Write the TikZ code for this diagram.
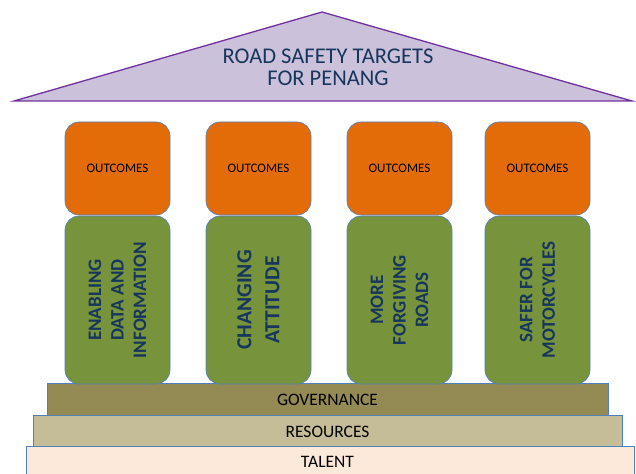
\documentclass[tikz,border=0pt]{standalone}
\usepackage{fontspec}
\setmainfont{Carlito}
\definecolor{roofFill}{HTML}{CCC1DA}
\definecolor{roofLine}{HTML}{7030A0}
\definecolor{outFill}{HTML}{E36C09}
\definecolor{pilFill}{HTML}{77933C}
\definecolor{boxLine}{HTML}{4F81BD}
\definecolor{govFill}{HTML}{948A54}
\definecolor{resFill}{HTML}{C4BD97}
\definecolor{talFill}{HTML}{FDE9D9}
\definecolor{navy}{HTML}{17365D}
\begin{document}
\begin{tikzpicture}[x=1pt,y=-1pt,
  outbox/.style={draw=boxLine, line width=0.6pt, fill=outFill, rounded corners=14pt,
    minimum width=105pt, minimum height=93pt, inner sep=0pt,
    font=\fontsize{13}{15}\selectfont, text=black},
  pilbox/.style={draw=boxLine, line width=0.6pt, fill=pilFill, rounded corners=14pt,
    minimum width=105pt, minimum height=168pt, inner sep=0pt},
  piltext/.style={rotate=90, align=center, text=navy, inner sep=0pt,
    font=\bfseries\fontsize{19}{22.5}\selectfont},
  band/.style={draw=boxLine, line width=0.6pt, inner sep=0pt},
  bandtext/.style={font=\fontsize{17.5}{19}\selectfont, text=black, inner sep=0pt}
]
\useasboundingbox (0,0) rectangle (636,473);
% roof
\coordinate (apex) at (322,12);
\coordinate (bl) at (14,101);
\coordinate (br) at (632,101);
\draw[fill=roofFill, draw=roofLine, line width=1.3pt, line join=miter] (apex) -- (br) -- (bl) -- cycle;
\node[align=center, text=navy, font=\fontsize{22.5}{22}\selectfont, inner sep=0pt] (title) at (328,67)
  {ROAD SAFETY TARGETS\\FOR PENANG};
% bands
\node[band, fill=talFill, minimum width=608pt, minimum height=30pt] (talent) at (330,461) {};
\node[band, fill=resFill, minimum width=589pt, minimum height=31pt] (resources) at (327.5,431) {};
\node[band, fill=govFill, minimum width=561pt, minimum height=32pt] (governance) at (327.5,399.5) {};
\node[bandtext] (govt) at (327.5,400) {GOVERNANCE};
\node[bandtext] (rest) at (327.5,432) {RESOURCES};
\node[bandtext] (talt) at (327.5,461.5) {TALENT};
% pillars
\node[pilbox] (p1) at (117.5,300) {};
\node[pilbox] (p2) at (258.5,300) {};
\node[pilbox] (p3) at (399.5,300) {};
\node[pilbox] (p4) at (537.5,300) {};
\node[outbox] (o1) at (117.5,168.5) {OUTCOMES};
\node[outbox] (o2) at (258.5,168.5) {OUTCOMES};
\node[outbox] (o3) at (399.5,168.5) {OUTCOMES};
\node[outbox] (o4) at (537.5,168.5) {OUTCOMES};
\node[piltext] (t1) at (p1.center) {ENABLING\\DATA AND\\INFORMATION};
\node[piltext, font=\bfseries\fontsize{21.5}{28}\selectfont] (t2) at (p2.center) {CHANGING\\ATTITUDE};
\node[piltext] (t3) at (p3.center) {MORE\\FORGIVING\\ROADS};
\node[piltext] (t4) at (p4.center) {SAFER FOR\\MOTORCYCLES};
\end{tikzpicture}
\end{document}
